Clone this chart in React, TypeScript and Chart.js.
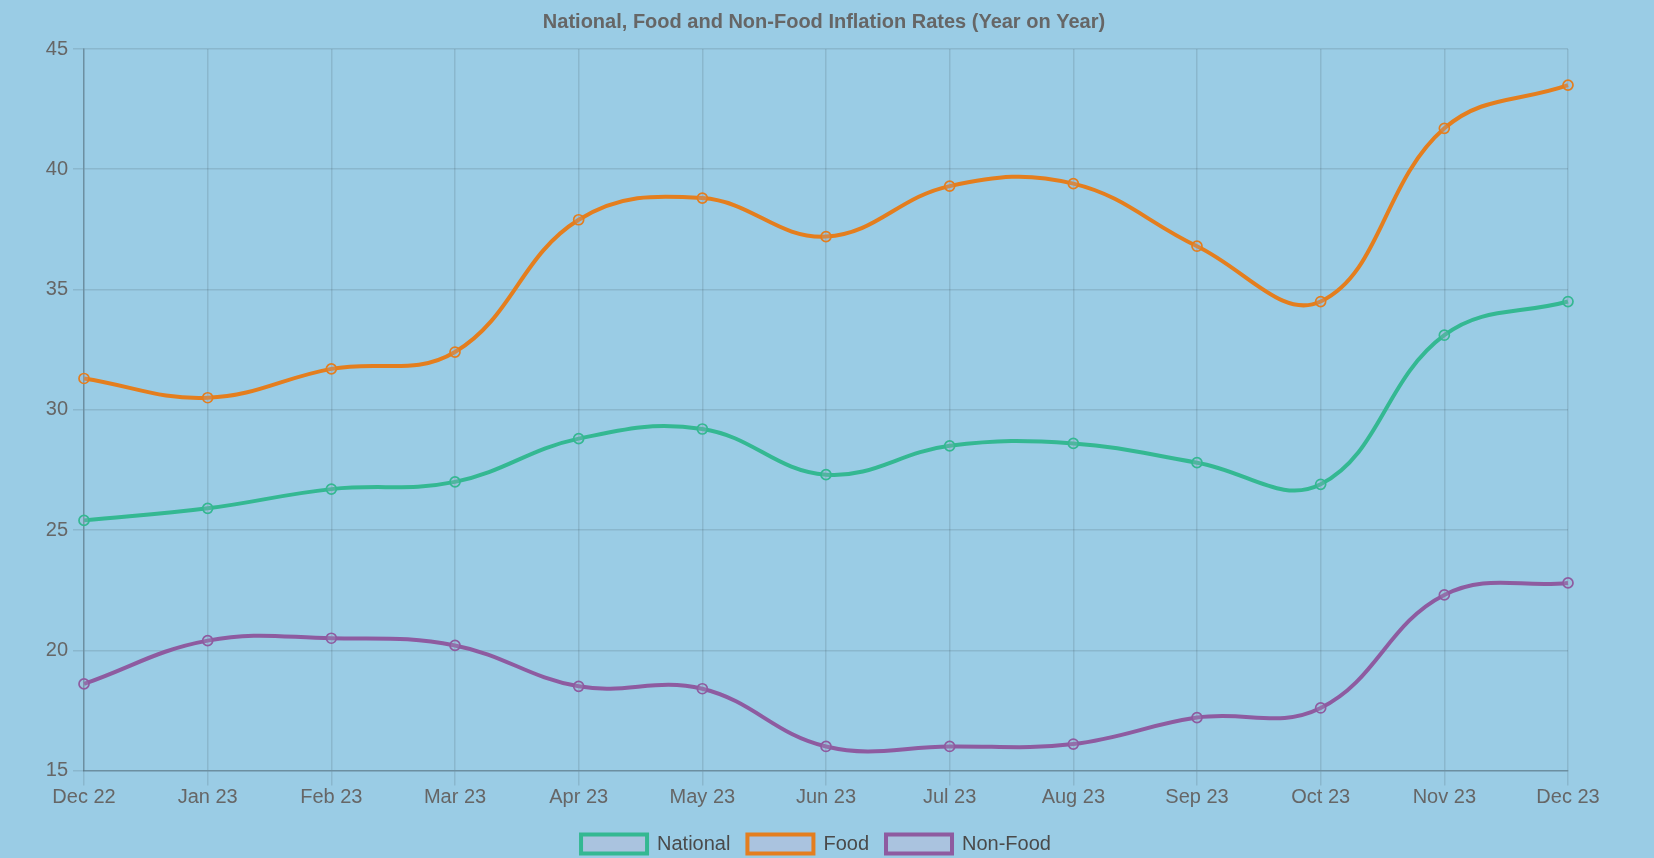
import React, { useEffect, useRef } from "react";
import { Chart, registerables } from "chart.js";

Chart.register(...registerables);

const months = ["Dec 22", "Jan 23", "Feb 23", "Mar 23", "Apr 23", "May 23", "Jun 23", "Jul 23", "Aug 23", "Sep 23", "Oct 23", "Nov 23", "Dec 23"];
const nationalRates = [25.4, 25.9, 26.7, 27.0, 28.8, 29.2, 27.3, 28.5, 28.6, 27.8, 26.9, 33.1, 34.5];
const foodRates = [31.3, 30.5, 31.7, 32.4, 37.9, 38.8, 37.2, 39.3, 39.4, 36.8, 34.5, 41.7, 43.5];
const nonFoodRates = [18.6, 20.4, 20.5, 20.2, 18.5, 18.4, 16.0, 16.0, 16.1, 17.2, 17.6, 22.3, 22.8];

const BG = "#9acce5";
const FONT = "'Liberation Sans', Arial, Helvetica, sans-serif";

const legendShift = {
  id: "legendShift",
  afterLayout(chart: any) {
    const l = chart.legend;
    if (l) {
      l.left -= 8;
      l.right -= 8;
    }
  },
};

export default function App() {
  const ref = useRef<HTMLCanvasElement | null>(null);
  useEffect(() => {
    document.body.style.margin = "0";
    document.body.style.background = BG;
    const ctx = ref.current!;
    const mk = (label: string, data: number[], color: string) => ({
      label,
      data,
      borderColor: color,
      backgroundColor: "rgba(190,185,215,0.45)",
      pointBackgroundColor: "rgba(160,170,200,0.25)",
      pointBorderColor: color,
      borderWidth: 4,
      pointRadius: 5,
      pointBorderWidth: 1.7,
      tension: 0.4,
      fill: false,
    });
    const chart = new Chart(ctx, {
      type: "line",
      data: {
        labels: months,
        datasets: [
          mk("National", nationalRates, "#34b892"),
          mk("Food", foodRates, "#e47e1e"),
          mk("Non-Food", nonFoodRates, "#8e5ba0"),
        ],
      },
      plugins: [legendShift],
      options: {
        animation: false,
        responsive: false,
        maintainAspectRatio: false,
        layout: { padding: { left: 80, right: 86, top: 0, bottom: 0 } },
        plugins: {
          title: {
            display: true,
            text: "National, Food and Non-Food Inflation Rates (Year on Year)",
            color: "#666",
            font: { family: FONT, size: 20, weight: "bold" },
            padding: { top: 10, bottom: 15 },
          },
          legend: {
            position: "bottom",
            labels: {
              color: "#4a4a4a",
              font: { family: FONT, size: 20 },
              boxWidth: 66,
              boxHeight: 19,
              padding: 17,
            },
          },
          tooltip: { enabled: false },
        },
        scales: {
          x: {
            afterFit: (axis: any) => {
              axis.height += 7.5;
            },
            grid: { color: "rgba(0,0,0,0.1)", tickLength: 15, lineWidth: 1.5 },
            border: { color: "rgba(0,0,0,0.22)", width: 1.5 },
            ticks: {
              color: "#666",
              font: { family: FONT, size: 20 },
              padding: 0,
              maxRotation: 0,
            },
          },
          y: {
            min: 15,
            max: 45,
            afterFit: (axis: any) => {
              axis.width = 4;
            },
            grid: { color: "rgba(0,0,0,0.1)", tickLength: 11, lineWidth: 1.5 },
            border: { color: "rgba(0,0,0,0.22)", width: 1.5 },
            ticks: {
              color: "#666",
              font: { family: FONT, size: 20 },
              mirror: true,
              crossAlign: "far",
              padding: -38.2,
              stepSize: 5,
            },
          },
        },
      },
    });
    return () => chart.destroy();
  }, []);
  return (
    <div style={{ width: 1654, height: 858, background: BG, overflow: "hidden" }}>
      <canvas ref={ref} width={1654} height={864} style={{ display: "block" }} />
    </div>
  );
}
